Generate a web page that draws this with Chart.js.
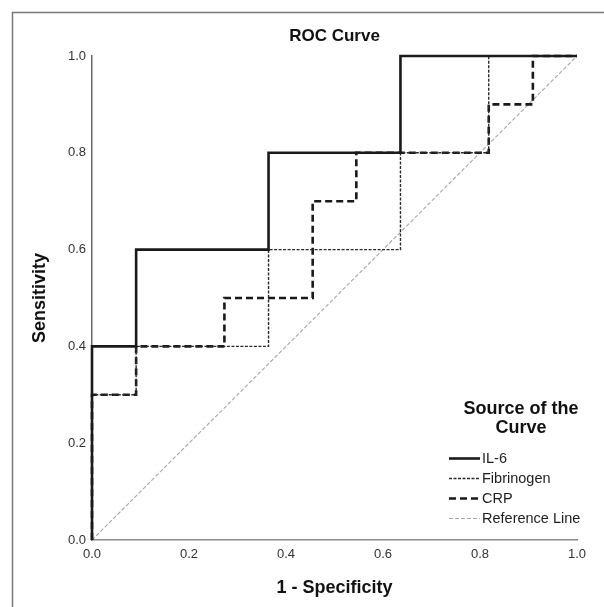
<!DOCTYPE html>
<html>
<head>
<meta charset="utf-8">
<script src="https://cdn.jsdelivr.net/npm/chart.js@4.4.1/dist/chart.umd.min.js"></script>
<style>
  html, body { margin: 0; padding: 0; background: #fff; overflow: hidden; }
  #wrap { position: relative; width: 604px; height: 607px; }
  canvas { display: block; }
</style>
</head>
<body>
<div id="wrap"><canvas id="c" width="604" height="607"></canvas></div>
<script>
// ---- Data ----
const chartTitle = 'ROC Curve';
const xTitle = '1 - Specificity';
const yTitle = 'Sensitivity';
const legendTitle = ['Source of the', 'Curve'];
const seriesNames = ['IL-6', 'Fibrinogen', 'CRP', 'Reference Line'];
const tickLabels = ['0.0', '0.2', '0.4', '0.6', '0.8', '1.0'];

const il6X = [0, 0, 0.091, 0.091, 0.364, 0.364, 0.636, 0.636, 1.0];
const il6Y = [0, 0.4, 0.4, 0.6, 0.6, 0.8, 0.8, 1.0, 1.0];

const fibX = [0, 0, 0.091, 0.091, 0.364, 0.364, 0.636, 0.636, 0.818, 0.818, 1.0];
const fibY = [0, 0.3, 0.3, 0.4, 0.4, 0.6, 0.6, 0.8, 0.8, 1.0, 1.0];

const crpX = [0, 0, 0.091, 0.091, 0.273, 0.273, 0.455, 0.455, 0.545, 0.545, 0.818, 0.818, 0.909, 0.909, 1.0];
const crpY = [0, 0.3, 0.3, 0.4, 0.4, 0.5, 0.5, 0.7, 0.7, 0.8, 0.8, 0.9, 0.9, 1.0, 1.0];

const refX = [0, 1.0];
const refY = [0, 1.0];

// ---- Build ----
const pts = (xs, ys) => xs.map((x, i) => ({ x: x, y: ys[i] }));
const FONT = '"Liberation Sans", Arial, Helvetica, sans-serif';

const datasets = [
  { label: seriesNames[0], data: pts(il6X, il6Y), borderColor: '#1a1a1a', borderWidth: 2.6, borderDash: [] },
  { label: seriesNames[1], data: pts(fibX, fibY), borderColor: '#2a2a2a', borderWidth: 1.4, borderDash: [3, 1.5] },
  { label: seriesNames[2], data: pts(crpX, crpY), borderColor: '#1a1a1a', borderWidth: 2.6, borderDash: [7, 4] },
  { label: seriesNames[3], data: pts(refX, refY), borderColor: '#a8a8a8', borderWidth: 1.1, borderDash: [4, 2] }
].map(d => Object.assign(d, {
  showLine: true, pointRadius: 0, pointHoverRadius: 0, tension: 0, fill: false, clip: 6,
  borderCapStyle: 'butt', borderJoinStyle: 'miter'
}));

const overlay = {
  id: 'overlay',
  beforeDraw(chart) {
    const ctx = chart.ctx;
    ctx.save();
    ctx.fillStyle = '#ffffff';
    ctx.fillRect(0, 0, chart.width, chart.height);
    ctx.strokeStyle = '#7a7a7a';
    ctx.lineWidth = 1.5;
    ctx.beginPath();
    ctx.moveTo(12.5, chart.height);
    ctx.lineTo(12.5, 12.5);
    ctx.lineTo(chart.width, 12.5);
    ctx.stroke();
    ctx.restore();
  },
  afterDraw(chart) {
    const ctx = chart.ctx;
    const a = chart.chartArea;
    ctx.save();
    // Title
    ctx.fillStyle = '#111';
    ctx.font = 'bold 17px ' + FONT;
    ctx.textAlign = 'center';
    ctx.textBaseline = 'middle';
    ctx.fillText(chartTitle, (a.left + a.right) / 2, 36);

    // Legend
    const cx = 521;
    ctx.font = 'bold 18px ' + FONT;
    ctx.fillText(legendTitle[0], cx, 409);
    ctx.fillText(legendTitle[1], cx, 428);
    ctx.font = '14.5px ' + FONT;
    ctx.textAlign = 'left';
    chart.data.datasets.forEach((ds, i) => {
      const y = 458 + i * 20;
      ctx.save();
      ctx.strokeStyle = ds.borderColor;
      ctx.lineWidth = ds.borderWidth;
      ctx.setLineDash(ds.borderDash || []);
      ctx.beginPath();
      ctx.moveTo(449, y + 0.5);
      ctx.lineTo(480, y + 0.5);
      ctx.stroke();
      ctx.restore();
      ctx.fillStyle = '#1e1e1e';
      ctx.fillText(ds.label, 482, y + 1);
    });
    ctx.restore();
  }
};

new Chart(document.getElementById('c'), {
  type: 'scatter',
  data: { datasets: datasets },
  plugins: [overlay],
  options: {
    responsive: false,
    devicePixelRatio: 1,
    animation: false,
    events: [],
    layout: { padding: { top: 56, right: 27, left: 0, bottom: 0 } },
    plugins: {
      legend: { display: false },
      title: { display: false },
      tooltip: { enabled: false }
    },
    scales: {
      x: {
        type: 'linear', min: 0, max: 1,
        afterFit: s => { s.height = 67; },
        grid: { display: false, drawTicks: false },
        border: { display: true, color: '#8a8a8a', width: 1.5 },
        ticks: {
          stepSize: 0.2, padding: 7, color: '#333',
          font: { family: FONT, size: 13 },
          maxRotation: 0, autoSkip: false,
          callback: (v, i) => tickLabels[i]
        },
        title: {
          display: true, text: xTitle, color: '#111',
          font: { family: FONT, size: 18, weight: 'bold' },
          padding: { top: 0, bottom: 8 }
        }
      },
      y: {
        type: 'linear', min: 0, max: 1,
        afterFit: s => { s.width = 92; },
        grid: { display: false, drawTicks: false },
        border: { display: true, color: '#6a6a6a', width: 1.5 },
        ticks: {
          stepSize: 0.2, padding: 6, color: '#333',
          font: { family: FONT, size: 13 },
          autoSkip: false,
          callback: (v, i) => tickLabels[i]
        },
        title: {
          display: true, text: yTitle, color: '#111',
          font: { family: FONT, size: 18, weight: 'bold' },
          padding: { top: 29, bottom: 0 }
        }
      }
    }
  }
});
</script>
</body>
</html>
